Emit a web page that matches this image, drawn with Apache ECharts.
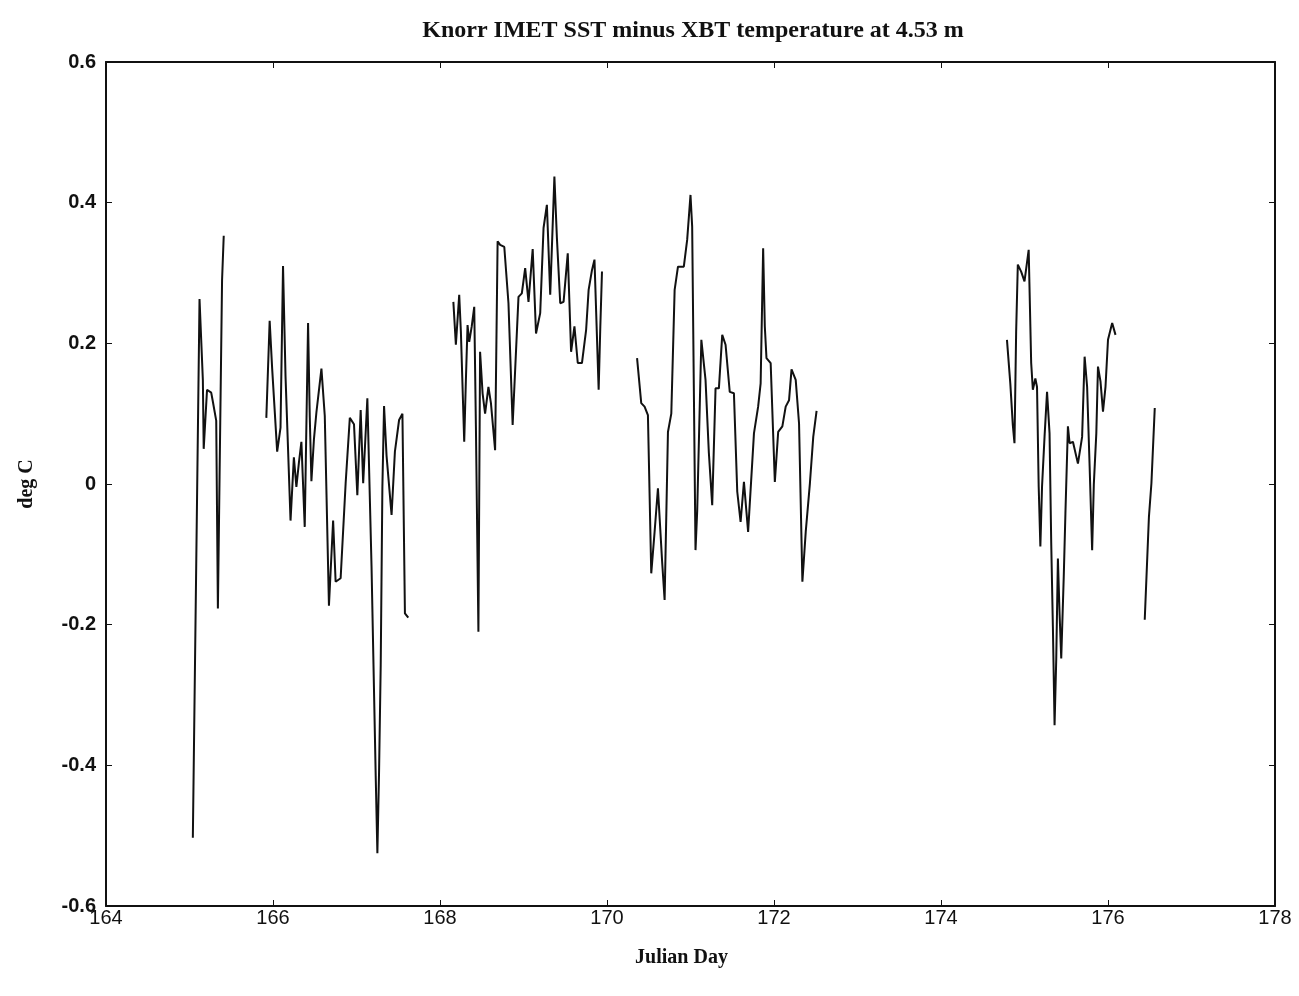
<!DOCTYPE html>
<html>
<head>
<meta charset="utf-8">
<title>Knorr IMET SST minus XBT temperature at 4.53 m</title>
<script src="https://cdn.jsdelivr.net/npm/echarts@6/dist/echarts.min.js"></script>
<style>
  html, body { margin: 0; padding: 0; background: #fff; }
  #chart { width: 1299px; height: 996px; }
</style>
</head>
<body>
<div id="chart"></div>
<script>
// Julian day / temperature-difference (deg C) pairs, one pair of arrays per data run
const day1 = [165.04, 165.12, 165.16, 165.17, 165.21, 165.26, 165.28, 165.32, 165.34, 165.36, 165.39, 165.41];
const val1 = [-0.503, 0.263, 0.148, 0.05, 0.134, 0.13, 0.117, 0.09, -0.177, 0.01, 0.29, 0.353];

const day2 = [165.92, 165.96, 165.99, 166.05, 166.09, 166.12, 166.15, 166.21, 166.25, 166.28, 166.31, 166.34,
              166.38, 166.42, 166.44, 166.46, 166.49, 166.52, 166.58, 166.62, 166.67, 166.72, 166.75, 166.81,
              166.87, 166.92, 166.97, 167.01, 167.05, 167.08, 167.13, 167.18, 167.23, 167.25, 167.27, 167.29,
              167.31, 167.33, 167.36, 167.42, 167.46, 167.51, 167.55, 167.58, 167.62];
const val2 = [0.094, 0.232, 0.164, 0.046, 0.08, 0.31, 0.153, -0.052, 0.038, -0.004, 0.03, 0.06,
              -0.061, 0.229, 0.097, 0.004, 0.063, 0.102, 0.164, 0.097, -0.173, -0.052, -0.139, -0.134,
              0.001, 0.094, 0.085, -0.016, 0.105, 0.001, 0.122, -0.117, -0.415, -0.525, -0.41, -0.257,
              -0.004, 0.111, 0.04, -0.044, 0.046, 0.091, 0.1, -0.184, -0.19];

const day3 = [168.16, 168.19, 168.23, 168.25, 168.29, 168.31, 168.33, 168.35, 168.38, 168.41, 168.43, 168.46,
              168.48, 168.51, 168.54, 168.58, 168.61, 168.66, 168.69, 168.72, 168.77, 168.82, 168.87, 168.94,
              168.98, 169.02, 169.06, 169.11, 169.15, 169.2, 169.24, 169.28, 169.32, 169.37, 169.4, 169.44,
              169.48, 169.53, 169.57, 169.61, 169.65, 169.7, 169.75, 169.78, 169.82, 169.85, 169.9, 169.92, 169.94];
const val3 = [0.259, 0.198, 0.269, 0.217, 0.06, 0.148, 0.226, 0.202, 0.224, 0.252, 0.082, -0.21,
              0.188, 0.129, 0.1, 0.138, 0.115, 0.048, 0.345, 0.34, 0.337, 0.257, 0.084, 0.266,
              0.271, 0.307, 0.259, 0.334, 0.214, 0.243, 0.364, 0.397, 0.269, 0.437, 0.35, 0.257,
              0.259, 0.328, 0.188, 0.224, 0.172, 0.172, 0.219, 0.276, 0.304, 0.319, 0.134, 0.224, 0.302];

const day4 = [170.36, 170.41, 170.45, 170.49, 170.53, 170.57, 170.61, 170.66, 170.69, 170.73, 170.77, 170.81,
              170.85, 170.92, 170.96, 171.0, 171.02, 171.06, 171.08, 171.13, 171.18, 171.22, 171.26, 171.3,
              171.34, 171.38, 171.42, 171.47, 171.52, 171.56, 171.6, 171.64, 171.69, 171.76, 171.81, 171.84,
              171.87, 171.89, 171.91, 171.96, 172.01, 172.05, 172.1, 172.14, 172.18, 172.21, 172.26, 172.3,
              172.34, 172.38, 172.43, 172.47, 172.51];
const val4 = [0.179, 0.115, 0.11, 0.098, -0.127, -0.068, -0.006, -0.11, -0.165, 0.074, 0.1, 0.276,
              0.309, 0.309, 0.347, 0.411, 0.366, -0.094, -0.039, 0.205, 0.148, 0.044, -0.03, 0.136,
              0.136, 0.212, 0.198, 0.131, 0.129, -0.011, -0.054, 0.003, -0.068, 0.072, 0.11, 0.143,
              0.335, 0.224, 0.179, 0.172, 0.003, 0.074, 0.082, 0.11, 0.119, 0.163, 0.148, 0.086,
              -0.139, -0.068, 0.001, 0.067, 0.104];

const day5 = [174.79, 174.83, 174.86, 174.88, 174.9, 174.92, 174.96, 175.0, 175.05, 175.08, 175.1, 175.13,
              175.15, 175.17, 175.19, 175.21, 175.24, 175.27, 175.3, 175.32, 175.34, 175.36, 175.38, 175.4,
              175.42, 175.44, 175.47, 175.49, 175.52, 175.54, 175.58, 175.64, 175.69, 175.72, 175.75, 175.78,
              175.81, 175.83, 175.86, 175.88, 175.91, 175.94, 175.97, 176.0, 176.05, 176.09];
const val5 = [0.205, 0.143, 0.084, 0.058, 0.217, 0.312, 0.302, 0.288, 0.333, 0.172, 0.134, 0.15,
              0.138, -0.004, -0.089, -0.004, 0.067, 0.131, 0.072, -0.084, -0.203, -0.343, -0.25, -0.106,
              -0.184, -0.248, -0.132, -0.042, 0.082, 0.058, 0.06, 0.029, 0.067, 0.181, 0.138, 0.025,
              -0.094, -0.001, 0.072, 0.167, 0.146, 0.103, 0.138, 0.205, 0.229, 0.212];

const day6 = [176.44, 176.49, 176.52, 176.56];
const val6 = [-0.193, -0.047, 0.001, 0.108];

const segments = [[day1, val1], [day2, val2], [day3, val3], [day4, val4], [day5, val5], [day6, val6]];

const serif = '"Liberation Serif", "DejaVu Serif", serif';
const sans = '"Liberation Sans", "DejaVu Sans", sans-serif';

const chart = echarts.init(document.getElementById('chart'), null, { renderer: 'canvas' });

const series = segments.map(([d, v]) => ({
  type: 'line',
  data: d.map((x, i) => [x, v[i]]),
  showSymbol: false,
  symbol: 'none',
  lineStyle: { color: '#111', width: 2 },
  animation: false
}));

// a closed box: every axis draws its line and inward ticks, away from zero
const boxAxis = () => ({
  axisLine: { show: true, onZero: false, lineStyle: { color: '#111', width: 2 } },
  axisTick: { show: true, inside: true, length: 6, lineStyle: { color: '#111', width: 1 } },
  splitLine: { show: false }
});

chart.setOption({
  backgroundColor: '#fff',
  animation: false,
  title: {
    text: 'Knorr IMET SST minus XBT temperature at 4.53 m',
    left: 688, top: 14, textAlign: 'center',
    textStyle: { fontFamily: serif, fontSize: 24, fontWeight: 'bold', color: '#111' }
  },
  grid: { left: 106, right: 24, top: 62, bottom: 90 },
  xAxis: [
    Object.assign({
      type: 'value', min: 164, max: 178, interval: 2, position: 'bottom',
      name: 'Julian Day', nameLocation: 'middle', nameGap: 42,
      nameTextStyle: { fontFamily: serif, fontSize: 20, fontWeight: 'bold', color: '#111',
        padding: [0, 18, 0, 0] },
      axisLabel: { fontFamily: sans, fontSize: 20, color: '#111', margin: 2 }
    }, boxAxis()),
    Object.assign({
      type: 'value', min: 164, max: 178, interval: 2, position: 'top',
      axisLabel: { show: false }
    }, boxAxis())
  ],
  yAxis: [
    Object.assign({
      type: 'value', min: -0.6, max: 0.6, interval: 0.2, position: 'left',
      name: 'deg C', nameLocation: 'middle', nameGap: 69, nameRotate: 90,
      nameTextStyle: { fontFamily: serif, fontSize: 20, fontWeight: 'bold', color: '#111' },
      axisLabel: { fontFamily: sans, fontSize: 20, fontWeight: 'bold', color: '#111', margin: 10,
        formatter: v => (Math.abs(v) < 1e-9 ? '0' : (+v.toFixed(1)).toString()) }
    }, boxAxis()),
    Object.assign({
      type: 'value', min: -0.6, max: 0.6, interval: 0.2, position: 'right',
      axisLabel: { show: false }
    }, boxAxis())
  ],
  series: series
});
</script>
</body>
</html>
